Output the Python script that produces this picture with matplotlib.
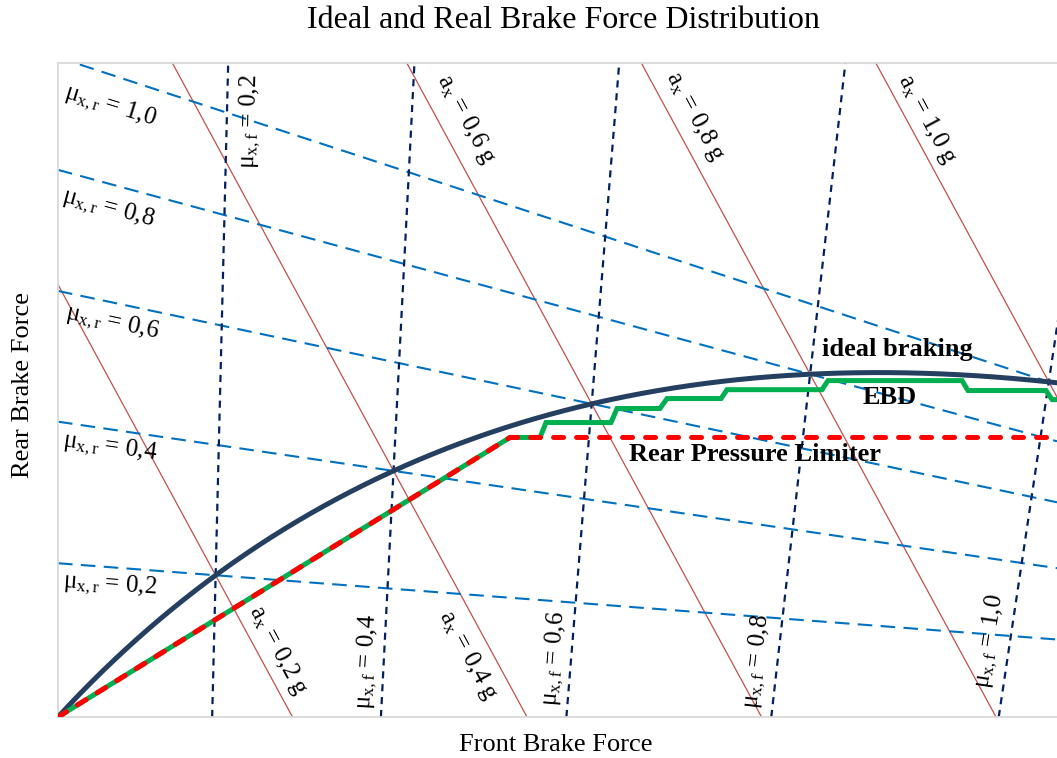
import numpy as np
import matplotlib
matplotlib.use("Agg")
import matplotlib.pyplot as plt

# ---- data (normalised by vehicle weight) ----
psi = 0.371          # static rear axle load fraction
chi = 0.216          # centre-of-gravity height / wheelbase
decel_levels = [0.2, 0.4, 0.6, 0.8, 1.0]        # a_x in g
mu_rear_levels = [0.2, 0.4, 0.6, 0.8, 1.0]
mu_front_levels = [0.2, 0.4, 0.6, 0.8, 1.0]

limiter_front = [0.0, 0.3855, 0.86]
limiter_rear = [0.0, 0.1293, 0.1293]

ebd_front = [0.0, 0.3855, 0.4111, 0.4162, 0.4716, 0.4768, 0.5134, 0.5194, 0.5655,
             0.5706, 0.6516, 0.6567, 0.7710, 0.7761, 0.8426, 0.8478, 0.86]
ebd_rear = [0.0, 0.1293, 0.1293, 0.1362, 0.1362, 0.1427, 0.1427, 0.1473, 0.1473,
            0.1514, 0.1514, 0.1556, 0.1556, 0.1510, 0.1510, 0.1468, 0.1468]

XMAX, YMAX = 0.852, 0.3025

plt.rcParams['font.family'] = ['Liberation Serif', 'DejaVu Serif']
plt.rcParams['mathtext.fontset'] = 'custom'
plt.rcParams['mathtext.rm'] = 'Liberation Serif'
plt.rcParams['mathtext.it'] = 'Liberation Serif:italic'
plt.rcParams['mathtext.bf'] = 'Liberation Serif:bold'

fig = plt.figure(figsize=(10.57, 7.58), dpi=100)
ax = fig.add_axes([58/1057, 41/758, 1 - 58/1057, 654/758])
ax.set_xlim(0, XMAX)
ax.set_ylim(0, YMAX)
ax.set_xticks([])
ax.set_yticks([])
for s in ['left', 'bottom', 'top']:
    ax.spines[s].set_color('#d9d9d9')
    ax.spines[s].set_linewidth(1.3)
ax.spines['right'].set_visible(False)

# constant deceleration lines
for a in decel_levels:
    ff = np.array([0.0, a])
    ax.plot(ff, a - ff, color='#c0504d', lw=0.9, zorder=2)

# rear friction utilisation lines
ffr = np.array([0.0, XMAX])
for mu in mu_rear_levels:
    fr = (mu * psi - mu * chi * ffr) / (1 + mu * chi)
    ax.plot(ffr, fr, color='#0070c0', lw=1.5, dashes=(7, 4), zorder=2)

# front friction utilisation lines
frr = np.array([0.0, YMAX])
for mu in mu_front_levels:
    ff = (mu * (1 - psi) + mu * chi * frr) / (1 - mu * chi)
    ax.plot(ff, frr, color='#002060', lw=1.6, dashes=(3.2, 2.6), zorder=2)

# ideal braking parabola
acc = np.linspace(0, 1.1, 300)
ideal_f = acc * (1 - psi + chi * acc)
ideal_r = acc * (psi - chi * acc)
ax.plot(ideal_f, ideal_r, color='#243f60', lw=3.6, zorder=4, solid_capstyle='butt')

# EBD and limiter
ax.plot(ebd_front, ebd_rear, color='#00b050', lw=3.6, zorder=5, solid_joinstyle='miter')
ax.plot(limiter_front, limiter_rear, color='#ff0000', lw=3.6, dashes=(2.0, 2.6),
        dash_capstyle='round', zorder=6)

# labels
fs = 18
mu_r_pos = [(0.0443, 0.0609), (0.0443, 0.1247), (0.0461, 0.1824), (0.0426, 0.2350), (0.0443, 0.2825)]
mu_r_rot = [-4, -8, -12, -15, -17]
for mu, (x, y), r in zip(mu_rear_levels, mu_r_pos, mu_r_rot):
    ax.text(x, y, r'$\mathrm{μ_{x,r}}$ = ' + f'{mu:.1f}'.replace('.', ','), fontsize=fs,
            rotation=r, ha='center', va='center', zorder=8)

mu_f_pos = [(0.1638, 0.2756), (0.2635, 0.0254), (0.4239, 0.0272), (0.5962, 0.0259), (0.7949, 0.0351)]
mu_f_rot = [88.6, 87, 85.4, 83.5, 81.5]
for mu, (x, y), r in zip(mu_front_levels, mu_f_pos, mu_f_rot):
    ax.text(x, y, r'$\mathrm{μ_{x,f}}$ = ' + f'{mu:.1f}'.replace('.', ','), fontsize=fs,
            rotation=r, ha='center', va='center', zorder=8)

a_pos = [(0.1876, 0.0309), (0.3497, 0.0286), (0.3480, 0.2765), (0.5433, 0.2779), (0.7411, 0.2765)]
for a, (x, y) in zip(decel_levels, a_pos):
    ax.text(x, y, r'$\mathrm{a_x}$ = ' + f'{a:.1f}'.replace('.', ',') + ' g', fontsize=fs,
            rotation=-61.6, ha='center', va='center', zorder=8)

ax.text(0.7156, 0.1699, 'ideal braking', fontsize=19, fontweight='bold', ha='center', va='center', zorder=8)
ax.text(0.7096, 0.1477, 'EBD', fontsize=19, fontweight='bold', ha='center', va='center', zorder=8)
ax.text(0.5945, 0.1214, 'Rear Pressure Limiter', fontsize=19, fontweight='bold', ha='center', va='center', zorder=8)

fig.text(563/1057, 1 - 20/758, 'Ideal and Real Brake Force Distribution', fontsize=23,
         ha='center', va='center')
fig.text(556/1057, 1 - 745/758, 'Front Brake Force', fontsize=19, ha='center', va='center')
fig.text(23/1057, 1 - 385/758, 'Rear Brake Force', fontsize=19, rotation=90, ha='center', va='center')

fig.savefig('out.png', dpi=100)
